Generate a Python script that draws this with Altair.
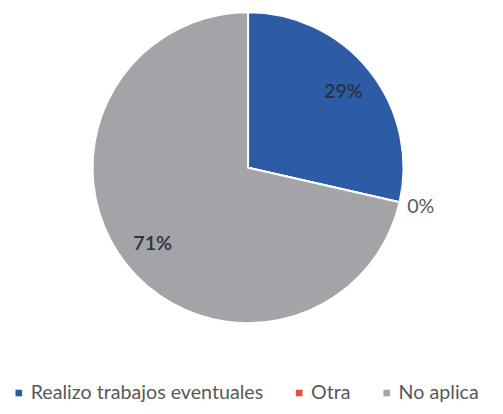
import altair as alt
import pandas as pd

categories = ["Realizo trabajos eventuales", "Otra", "No aplica"]
values = [2, 0, 5]
labels = ["29%", "0%", "71%"]
colors = ["#2D5BA6", "#E0553A", "#A3A3A8"]

df = pd.DataFrame({
    "categoria": categories,
    "valor": values,
    "etiqueta": labels,
    "orden": list(range(len(categories))),
})

base = alt.Chart(df).encode(
    theta=alt.Theta("valor:Q", stack=True),
    order=alt.Order("orden:Q"),
)

arcs = base.mark_arc(outerRadius=158, stroke="white", strokeWidth=2).encode(
    color=alt.Color(
        "categoria:N",
        scale=alt.Scale(domain=categories, range=colors),
        sort=categories,
        legend=alt.Legend(
            title=None,
            orient="none",
            legendX=1,
            legendY=378,
            direction="horizontal",
            symbolType="square",
            symbolSize=45,
            symbolStrokeWidth=0,
            labelFont="Lato",
            labelFontSize=20,
            labelColor="#595959",
            columnPadding=26,
            labelOffset=2,
            labelLimit=400,
        ),
    )
)

inner = base.mark_text(radius=124, font="Lato", fontSize=20, fontWeight=600).encode(
    text=alt.condition(alt.datum.valor > 0, "etiqueta:N", alt.value("")),
    color=alt.value("#2a3140"),
)

outer = base.mark_text(radius=180, font="Lato", fontSize=20, color="#595959").encode(
    text=alt.condition(alt.datum.valor == 0, "etiqueta:N", alt.value("")),
)

chart = (
    alt.layer(arcs, inner, outer)
    .properties(
        width=488,
        height=318,
        padding={"left": 0, "top": 0, "right": 7, "bottom": 88},
        autosize=alt.AutoSizeParams(type="none"),
    )
    .configure_view(stroke=None)
)

chart.save("out.html", embed_options={"renderer": "svg", "actions": False})
